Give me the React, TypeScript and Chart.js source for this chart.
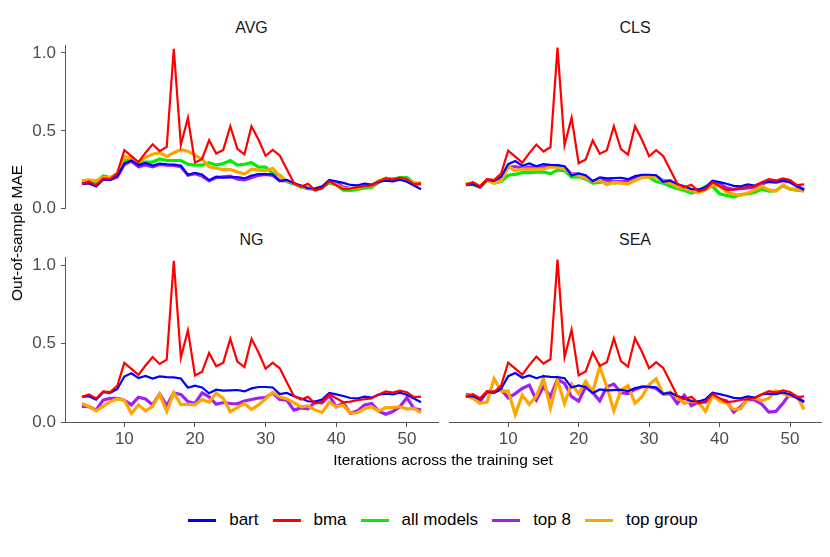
import { useEffect, useRef } from "react";
import { Chart, registerables } from "chart.js";

Chart.register(...registerables);
Chart.defaults.font.family = "'Liberation Sans', Arial, sans-serif";

const iterations = [
  4, 5, 6, 7, 8, 9, 10, 11, 12, 13, 14, 15, 16, 17, 18, 19, 20, 21, 22, 23, 24, 25, 26, 27, 28,
  29, 30, 31, 32, 33, 34, 35, 36, 37, 38, 39, 40, 41, 42, 43, 44, 45, 46, 47, 48, 49, 50, 51, 52,
];
const xTicks = [10, 20, 30, 40, 50];
const yTicks = [0, 0.5, 1.0];

// same baselines in every panel
const bart = [
  0.16, 0.164, 0.143, 0.19, 0.185, 0.21, 0.29, 0.31, 0.28, 0.294,
  0.277, 0.29, 0.286, 0.284, 0.277, 0.218, 0.231, 0.22, 0.183, 0.206,
  0.2, 0.202, 0.204, 0.195, 0.214, 0.223, 0.223, 0.22, 0.178, 0.185,
  0.164, 0.15, 0.132, 0.13, 0.143, 0.185, 0.176, 0.166, 0.153, 0.15,
  0.162, 0.155, 0.174, 0.18, 0.176, 0.187, 0.174, 0.15, 0.126,
];
const bma = [
  0.16, 0.176, 0.15, 0.195, 0.19, 0.23, 0.376, 0.338, 0.3, 0.36,
  0.414, 0.37, 0.397, 1.027, 0.41, 0.584, 0.296, 0.32, 0.44, 0.355,
  0.378, 0.53, 0.385, 0.35, 0.53, 0.443, 0.34, 0.378, 0.342, 0.254,
  0.166, 0.143, 0.16, 0.118, 0.13, 0.176, 0.151, 0.126, 0.13, 0.139,
  0.145, 0.15, 0.176, 0.195, 0.187, 0.2, 0.19, 0.158, 0.162,
];

// AVG
const avgAll = [
  0.174, 0.18, 0.17, 0.21, 0.2, 0.22, 0.31, 0.31, 0.29, 0.3,
  0.3, 0.32, 0.31, 0.31, 0.31, 0.286, 0.28, 0.28, 0.296, 0.28,
  0.29, 0.31, 0.28, 0.286, 0.296, 0.267, 0.267, 0.227, 0.216, 0.174,
  0.16, 0.139, 0.132, 0.124, 0.139, 0.166, 0.155, 0.12, 0.118, 0.124,
  0.134, 0.139, 0.17, 0.19, 0.19, 0.2, 0.2, 0.166, 0.165,
];
const avgTop8 = [
  0.163, 0.165, 0.148, 0.19, 0.187, 0.205, 0.285, 0.305, 0.27, 0.282,
  0.27, 0.285, 0.28, 0.278, 0.27, 0.215, 0.225, 0.21, 0.18, 0.2,
  0.205, 0.21, 0.19, 0.185, 0.2, 0.215, 0.22, 0.215, 0.18, 0.18,
  0.16, 0.145, 0.13, 0.128, 0.14, 0.175, 0.168, 0.14, 0.13, 0.135,
  0.145, 0.15, 0.172, 0.195, 0.19, 0.192, 0.188, 0.158, 0.16,
];
const avgTopGroup = [
  0.18, 0.186, 0.18, 0.2, 0.2, 0.226, 0.336, 0.323, 0.3, 0.33,
  0.35, 0.36, 0.334, 0.36, 0.38, 0.37, 0.343, 0.32, 0.27, 0.26,
  0.252, 0.252, 0.237, 0.223, 0.254, 0.248, 0.244, 0.26, 0.21, 0.18,
  0.164, 0.143, 0.132, 0.128, 0.143, 0.174, 0.155, 0.132, 0.13, 0.134,
  0.145, 0.15, 0.18, 0.197, 0.189, 0.19, 0.189, 0.164, 0.16,
];

// CLS
const clsAll = [
  0.16, 0.162, 0.145, 0.19, 0.17, 0.18, 0.22, 0.225, 0.237, 0.237,
  0.24, 0.24, 0.23, 0.252, 0.25, 0.208, 0.21, 0.195, 0.17, 0.174,
  0.185, 0.17, 0.176, 0.18, 0.2, 0.21, 0.208, 0.18, 0.17, 0.15,
  0.137, 0.124, 0.107, 0.118, 0.15, 0.15, 0.103, 0.092, 0.082, 0.097,
  0.103, 0.111, 0.132, 0.12, 0.122, 0.153, 0.132, 0.126, 0.12,
];
const clsTop8 = [
  0.16, 0.165, 0.145, 0.19, 0.182, 0.2, 0.27, 0.275, 0.265, 0.27,
  0.27, 0.272, 0.28, 0.278, 0.27, 0.23, 0.225, 0.2, 0.18, 0.19,
  0.19, 0.18, 0.18, 0.185, 0.2, 0.21, 0.215, 0.215, 0.185, 0.185,
  0.155, 0.14, 0.13, 0.12, 0.135, 0.17, 0.165, 0.14, 0.13, 0.135,
  0.14, 0.145, 0.165, 0.18, 0.175, 0.185, 0.18, 0.15, 0.13,
];
const clsTopGroup = [
  0.165, 0.17, 0.145, 0.187, 0.17, 0.185, 0.275, 0.25, 0.258, 0.258,
  0.258, 0.258, 0.273, 0.27, 0.26, 0.227, 0.218, 0.2, 0.18, 0.187,
  0.16, 0.174, 0.17, 0.166, 0.187, 0.206, 0.21, 0.21, 0.18, 0.172,
  0.147, 0.137, 0.124, 0.111, 0.128, 0.157, 0.15, 0.114, 0.1, 0.092,
  0.107, 0.128, 0.15, 0.128, 0.12, 0.16, 0.132, 0.132, 0.12,
];

// NG
const ngTop8 = [
  0.1, 0.097, 0.076, 0.139, 0.151, 0.151, 0.139, 0.109, 0.158, 0.147,
  0.109, 0.178, 0.105, 0.185, 0.176, 0.13, 0.118, 0.185, 0.16, 0.113,
  0.124, 0.118, 0.116, 0.134, 0.143, 0.153, 0.155, 0.185, 0.143, 0.139,
  0.076, 0.09, 0.084, 0.128, 0.122, 0.168, 0.097, 0.122, 0.055, 0.071,
  0.109, 0.118, 0.069, 0.05, 0.067, 0.097, 0.155, 0.086, 0.076,
];
const ngTopGroup = [
  0.118, 0.097, 0.071, 0.1, 0.13, 0.147, 0.139, 0.055, 0.109, 0.071,
  0.1, 0.176, 0.067, 0.187, 0.111, 0.113, 0.109, 0.143, 0.126, 0.185,
  0.15, 0.067, 0.092, 0.118, 0.08, 0.109, 0.147, 0.189, 0.16, 0.147,
  0.124, 0.097, 0.103, 0.076, 0.061, 0.126, 0.097, 0.107, 0.057, 0.059,
  0.084, 0.097, 0.069, 0.092, 0.092, 0.097, 0.084, 0.086, 0.059,
];

// SEA
const seaTop8 = [
  0.176, 0.164, 0.13, 0.19, 0.19, 0.206, 0.153, 0.18, 0.212, 0.233,
  0.139, 0.223, 0.16, 0.27, 0.244, 0.16, 0.132, 0.223, 0.185, 0.134,
  0.223, 0.24, 0.185, 0.18, 0.206, 0.223, 0.223, 0.212, 0.176, 0.18,
  0.118, 0.168, 0.103, 0.126, 0.126, 0.172, 0.143, 0.134, 0.063, 0.097,
  0.143, 0.139, 0.113, 0.063, 0.067, 0.118, 0.18, 0.16, 0.126,
];
const seaTopGroup = [
  0.168, 0.15, 0.118, 0.126, 0.275, 0.195, 0.197, 0.048, 0.17, 0.111,
  0.164, 0.275, 0.09, 0.265, 0.118, 0.24, 0.18, 0.256, 0.19, 0.35,
  0.223, 0.071, 0.2, 0.23, 0.118, 0.16, 0.237, 0.273, 0.176, 0.19,
  0.155, 0.118, 0.134, 0.126, 0.067, 0.168, 0.134, 0.118, 0.08, 0.084,
  0.147, 0.151, 0.134, 0.151, 0.197, 0.18, 0.164, 0.16, 0.08,
];

const COLORS: Record<string, string> = {
  bart: "#0000FF",
  bma: "#FF0000",
  "all models": "#00EE00",
  "top 8": "#A020F0",
  "top group": "#FFA500",
};
const legendNames = ["bart", "bma", "all models", "top 8", "top group"];

type Series = { name: string; values: number[] };

const AXIS = "#555555";
const TICK_TEXT = "#4d4d4d";

// plot-area edges in page pixels
const LX0 = 65, LX1 = 438, RX0 = 449, RX1 = 821;
const TY0 = 44, TY1 = 210, BY0 = 256, BY1 = 422;

function Panel({
  title, series, x0, x1, y0, y1, showX, showY,
}: {
  title: string; series: Series[]; x0: number; x1: number; y0: number; y1: number;
  showX: boolean; showY: boolean;
}) {
  const canvasRef = useRef<HTMLCanvasElement | null>(null);
  const chartRef = useRef<Chart | null>(null);

  const padT = 14;
  const padB = showX ? 0 : 14;
  const axisW = showY ? 65 : 0;
  const axisH = showX ? 34 : 0;
  const left = x0 - axisW;
  const top = y0 - padT;
  const width = x1 - left + 6;
  const height = y1 - top + (showX ? axisH : padB);

  useEffect(() => {
    if (!canvasRef.current) return;
    if (chartRef.current) {
      chartRef.current.destroy();
      chartRef.current = null;
    }

    // draw order: first dataset ends up on top
    const order = ["bma", "bart", "top group", "top 8", "all models"];
    const sorted = [...series].sort((a, b) => order.indexOf(a.name) - order.indexOf(b.name));

    chartRef.current = new Chart(canvasRef.current, {
      type: "line",
      data: {
        datasets: sorted.map((s) => ({
          label: s.name,
          data: iterations.map((it, i) => ({ x: it, y: s.values[i] })),
          borderColor: COLORS[s.name],
          backgroundColor: COLORS[s.name],
          borderWidth: s.name === "bart" || s.name === "bma" ? 2.2 : 3.2,
          pointRadius: 0,
          tension: 0,
          fill: false,
        })),
      },
      options: {
        responsive: true,
        maintainAspectRatio: false,
        animation: false,
        layout: { padding: { top: padT, right: 6, bottom: padB, left: 0 } },
        plugins: {
          legend: { display: false },
          tooltip: { enabled: false },
        },
        scales: {
          x: {
            type: "linear",
            display: showX,
            min: 1.6,
            max: 54.4,
            afterBuildTicks: (s) => {
              s.ticks = xTicks.map((v) => ({ value: v }));
            },
            afterFit: (s) => {
              s.height = axisH;
            },
            border: { display: true, color: AXIS, width: 1 },
            grid: { drawOnChartArea: false, drawTicks: true, tickLength: 5, tickColor: AXIS },
            ticks: {
              color: TICK_TEXT,
              font: { size: 17 },
              padding: 2,
              maxRotation: 0,
              callback: (v) => String(v),
            },
          },
          y: {
            display: showY,
            min: 0,
            max: 1.05,
            afterBuildTicks: (s) => {
              s.ticks = yTicks.map((v) => ({ value: v }));
            },
            afterFit: (s) => {
              s.width = axisW;
            },
            border: { display: true, color: AXIS, width: 1 },
            grid: { drawOnChartArea: false, drawTicks: true, tickLength: 4, tickColor: AXIS },
            ticks: {
              color: TICK_TEXT,
              font: { size: 17 },
              padding: 5,
              callback: (v) => Number(v).toFixed(1),
            },
          },
        },
      },
    });

    return () => {
      if (chartRef.current) {
        chartRef.current.destroy();
        chartRef.current = null;
      }
    };
  }, [series, showX, showY, axisH, axisW, padB]);

  return (
    <>
      <div
        style={{
          position: "absolute",
          left: x0,
          width: x1 - x0,
          top: y0 - 26,
          textAlign: "center",
          fontSize: 16,
          lineHeight: "20px",
          color: "#1a1a1a",
        }}
      >
        {title}
      </div>
      <div style={{ position: "absolute", left, top, width, height }}>
        <canvas ref={canvasRef} />
      </div>
    </>
  );
}

const avgSeries: Series[] = [
  { name: "bart", values: bart },
  { name: "bma", values: bma },
  { name: "all models", values: avgAll },
  { name: "top 8", values: avgTop8 },
  { name: "top group", values: avgTopGroup },
];
const clsSeries: Series[] = [
  { name: "bart", values: bart },
  { name: "bma", values: bma },
  { name: "all models", values: clsAll },
  { name: "top 8", values: clsTop8 },
  { name: "top group", values: clsTopGroup },
];
const ngSeries: Series[] = [
  { name: "bart", values: bart },
  { name: "bma", values: bma },
  { name: "top 8", values: ngTop8 },
  { name: "top group", values: ngTopGroup },
];
const seaSeries: Series[] = [
  { name: "bart", values: bart },
  { name: "bma", values: bma },
  { name: "top 8", values: seaTop8 },
  { name: "top group", values: seaTopGroup },
];

export default function App() {
  return (
    <div
      style={{
        position: "absolute",
        left: 0,
        top: 0,
        width: 830,
        height: 557,
        background: "#fff",
        fontFamily: "'Liberation Sans', Arial, sans-serif",
        overflow: "hidden",
      }}
    >
      <Panel title="AVG" series={avgSeries} x0={LX0} x1={LX1} y0={TY0} y1={TY1} showX={false} showY />
      <Panel title="CLS" series={clsSeries} x0={RX0} x1={RX1} y0={TY0} y1={TY1} showX={false} showY={false} />
      <Panel title="NG" series={ngSeries} x0={LX0} x1={LX1} y0={BY0} y1={BY1} showX showY />
      <Panel title="SEA" series={seaSeries} x0={RX0} x1={RX1} y0={BY0} y1={BY1} showX showY={false} />

      <div
        style={{
          position: "absolute",
          left: 17,
          top: 233,
          transform: "translate(-50%, -50%) rotate(-90deg)",
          whiteSpace: "nowrap",
          fontSize: 15.5,
          color: "#000",
        }}
      >
        Out-of-sample MAE
      </div>
      <div
        style={{
          position: "absolute",
          left: LX0,
          width: RX1 - LX0,
          top: 450,
          textAlign: "center",
          fontSize: 15.5,
          lineHeight: "20px",
          color: "#000",
        }}
      >
        Iterations across the training set
      </div>

      <div
        style={{
          position: "absolute",
          left: LX0,
          width: RX1 - LX0,
          top: 509,
          height: 22,
          display: "flex",
          justifyContent: "center",
          alignItems: "center",
          fontSize: 17,
          color: "#000",
        }}
      >
        {legendNames.map((n, i) => (
          <div
            key={n}
            style={{
              display: "flex",
              alignItems: "center",
              marginRight: i === legendNames.length - 1 ? 0 : 14,
            }}
          >
            <div style={{ width: 28, height: 3, background: COLORS[n], marginRight: 13 }} />
            <span>{n}</span>
          </div>
        ))}
      </div>
    </div>
  );
}
